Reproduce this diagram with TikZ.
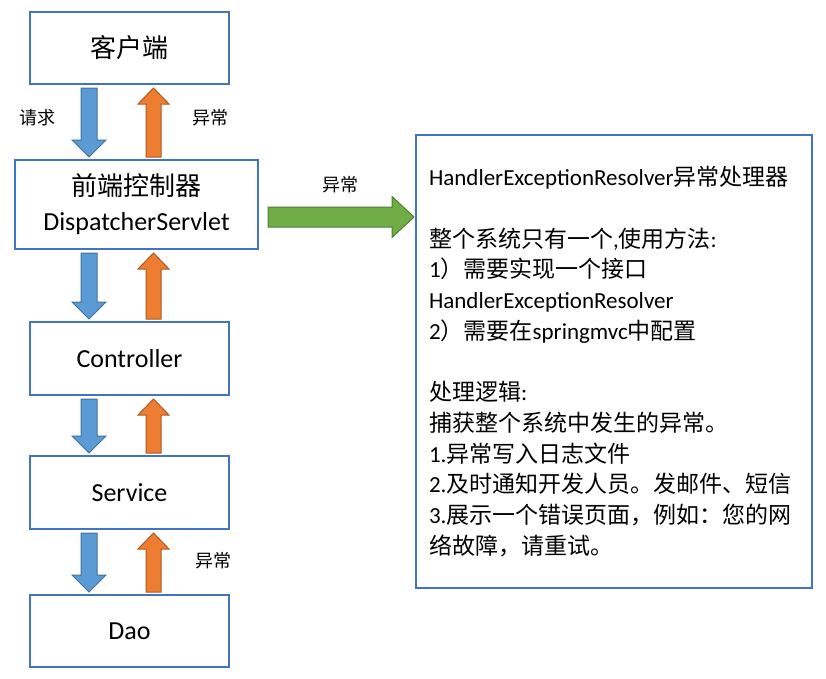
\documentclass[tikz,border=0pt]{standalone}
\usepackage{fontspec}
\setmainfont{Carlito}
\newfontfamily\cjk{Noto Sans CJK SC}
\usetikzlibrary{calc}

\definecolor{boxline}{HTML}{4472C4}
\definecolor{reqfill}{HTML}{5B9BD5}
\definecolor{reqline}{HTML}{41719C}
\definecolor{excfill}{HTML}{ED7D31}
\definecolor{excline}{HTML}{AE5A21}
\definecolor{passfill}{HTML}{70AD47}
\definecolor{passline}{HTML}{507E32}

% block arrow: style, from, to, half shaft, half head, head length
\newcommand\blockarrow[6]{%
  \coordinate (ba-h) at ($(#3)!#6!(#2)$);
  \filldraw[#1] ($(#2)!#4!90:(#3)$) -- ($(ba-h)!#4!90:(#3)$)
    -- ($(ba-h)!#5!90:(#3)$) -- (#3) -- ($(ba-h)!#5!-90:(#3)$)
    -- ($(ba-h)!#4!-90:(#3)$) -- ($(#2)!#4!-90:(#3)$) -- cycle;
}

\tikzset{
  layer/.style={draw=boxline, line width=2pt, minimum width=199pt,
    minimum height=72pt, align=center, font=\fontsize{26}{35}\selectfont},
  tag/.style={font=\cjk\fontsize{18}{22}\selectfont},
  reqarrow/.style={fill=reqfill, draw=reqline, line width=1pt},
  excarrow/.style={fill=excfill, draw=excline, line width=1pt},
  passarrow/.style={fill=passfill, draw=passline, line width=1pt}
}

\begin{document}
\begin{tikzpicture}[x=1pt,y=-1pt]
  \useasboundingbox (0,0) rectangle (826,678);

  % Layers
  \node[layer] (client) at (129.5,48) {{\cjk 客户端}};
  \node[layer, minimum width=243pt, minimum height=89pt] (front) at (136.5,204.5)
    {{\cjk 前端控制器}\\DispatcherServlet};
  \node[layer, minimum height=73pt] (ctrl) at (129.5,358.5) {Controller};
  \node[layer, minimum height=73pt] (svc) at (129.5,492.5) {Service};
  \node[layer] (dao) at (129.5,631) {Dao};

  % Exception resolver
  \node[layer, minimum width=396pt, minimum height=453pt, text width=370pt,
    align=left, font=\fontsize{23}{30.7}\selectfont] (resolver) at (614,361.5)
    {HandlerExceptionResolver{\cjk 异常处理器}\\[30.7pt]
     {\cjk 整个系统只有一个},{\cjk 使用方法}:\\
     1{\cjk ）需要实现一个接口}\\
     HandlerExceptionResolver\\
     2{\cjk ）需要在}springmvc{\cjk 中配置}\\[30.7pt]
     {\cjk 处理逻辑}:\\
     {\cjk 捕获整个系统中发生的异常。}\\
     1.{\cjk 异常写入日志文件}\\
     2.{\cjk 及时通知开发人员。发邮件、短信}\\
     3.{\cjk 展示一个错误页面，例如：您的网}\\
     {\cjk 络故障，请重试。}};

  % Request and exception arrows
  \coordinate (down) at (89,0);
  \coordinate (up) at (153.5,0);
  \foreach \a/\b in {client/front,front/ctrl,ctrl/svc,svc/dao}{
    \coordinate (s) at ($(down |- \a.south)+(0,3)$);
    \coordinate (t) at ($(down |- \b.north)+(0,-2)$);
    \blockarrow{reqarrow}{s}{t}{8pt}{17pt}{17pt}
    \coordinate (s) at ($(up |- \b.north)+(0,-2)$);
    \coordinate (t) at ($(up |- \a.south)+(0,3)$);
    \blockarrow{excarrow}{s}{t}{7.5pt}{15.5pt}{16pt}
  }

  % Hand over to resolver
  \coordinate (gs) at ($(front.east)+(9,12.5)$);
  \coordinate (gt) at ($(resolver.west |- gs)+(-1,0)$);
  \blockarrow{passarrow}{gs}{gt}{10pt}{20.5pt}{22pt}

  % Labels
  \node[tag] (reqtag) at (37,118) {请求};
  \node[tag] (exctag) at (210,118) {异常};
  \node[tag] (passtag) at (340,185) {异常};
  \node[tag] (daotag) at (213,561) {异常};
\end{tikzpicture}
\end{document}
